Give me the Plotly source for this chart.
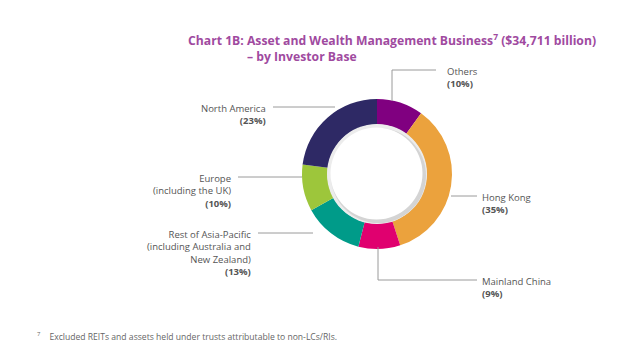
import plotly.graph_objects as go

# ---- data ----
regions = ["Others", "Hong Kong", "Mainland China", "Rest of Asia-Pacific", "Europe", "North America"]
shares = [10, 35, 9, 13, 10, 23]
slice_colors = ["#800080", "#EBA23D", "#E0006F", "#009B89", "#9DC63B", "#2E2965"]
label_texts = [
    "Others",
    "Hong Kong",
    "Mainland China",
    "Rest of Asia-Pacific<br>(including Australia and<br>New Zealand)",
    "Europe<br>(including the UK)",
    "North America",
]
title_line1 = "Chart 1B: Asset and Wealth Management Business<sup>7</sup> ($34,711 billion)"
title_line2 = "– by Investor Base"
footnote = "Excluded REITs and assets held under trusts attributable to non-LCs/RIs."

W, H = 640, 350
FONT = "Open Sans"
GREY = "#555555"
LINE = "#9a9a9a"

def px(x):
    return x / W

def py(y):
    return 1 - y / H

cx, cy, R = 377, 174, 75

fig = go.Figure()
fig.add_trace(go.Pie(
    labels=regions, values=shares,
    marker=dict(colors=slice_colors, line=dict(width=0)),
    hole=0.66, sort=False, direction="clockwise", rotation=0,
    textinfo="none", hoverinfo="label+percent",
    domain=dict(x=[px(cx - R), px(cx + R)], y=[py(cy + R), py(cy - R)]),
    showlegend=False,
))

shapes = []
# inner shadow ring
def circ(x, y, r, fill):
    return dict(type="circle", xref="paper", yref="paper",
                x0=px(x - r), x1=px(x + r), y0=py(y + r), y1=py(y - r),
                fillcolor=fill, line=dict(width=0), layer="above")
shapes.append(circ(cx, cy, 50, "#ececec"))
shapes.append(circ(cx + 1.5, cy + 1.5, 47.5, "#d4d4d4"))
shapes.append(circ(cx - 0.5, cy - 0.5, 46, "#ffffff"))

def seg(pts):
    out = []
    for (x0, y0), (x1, y1) in zip(pts[:-1], pts[1:]):
        out.append(dict(type="line", xref="paper", yref="paper",
                        x0=px(x0), y0=py(y0), x1=px(x1), y1=py(y1),
                        line=dict(color=LINE, width=1)))
    return out

# leader lines
shapes += seg([(392, 101), (392, 70), (436, 70)])        # Others
shapes += seg([(451, 196), (477, 196)])                  # Hong Kong
shapes += seg([(378, 247), (378, 280), (477, 280)])      # Mainland China
shapes += seg([(258, 233), (313, 233)])                  # Rest of Asia-Pacific
shapes += seg([(238, 177), (302, 177)])                  # Europe
shapes += seg([(273, 107), (335, 107)])                  # North America

annotations = []
def lab(x, y, text, anchor, pct):
    annotations.append(dict(
        x=px(x), y=py(y), xref="paper", yref="paper", xanchor=anchor, yanchor="top",
        text=text + "<br><b>(%d%%)</b>" % pct, showarrow=False, align=anchor,
        font=dict(family=FONT, size=9.5, color=GREY),
    ))

# positions of label blocks (top of first line)
lab_pos = [(445, 63, "left"), (480, 189, "left"), (480, 273, "left"),
           (253, 226, "right"), (233, 170, "right"), (268, 100, "right")]
for (x, y, a), t, v in zip(lab_pos, label_texts, shares):
    lab(x, y, t, a, v)

annotations.append(dict(x=px(186), y=py(40), xref="paper", yref="paper", xanchor="left",
                        yanchor="middle", showarrow=False, text="<b>" + title_line1 + "</b>",
                        font=dict(family=FONT, size=12.2, color="#A04A9F")))
annotations.append(dict(x=px(245), y=py(56), xref="paper", yref="paper", xanchor="left",
                        yanchor="middle", showarrow=False, text="<b>" + title_line2 + "</b>",
                        font=dict(family=FONT, size=12.2, color="#A04A9F")))
annotations.append(dict(x=px(35), y=py(336), xref="paper", yref="paper", xanchor="left",
                        yanchor="middle", showarrow=False,
                        text="<sup>7</sup>    " + footnote,
                        font=dict(family=FONT, size=8.6, color="#666666")))

fig.update_layout(
    width=W, height=H, margin=dict(l=0, r=0, t=0, b=0),
    paper_bgcolor="white", plot_bgcolor="white",
    shapes=shapes, annotations=annotations,
)
fig.write_html("out.html")
